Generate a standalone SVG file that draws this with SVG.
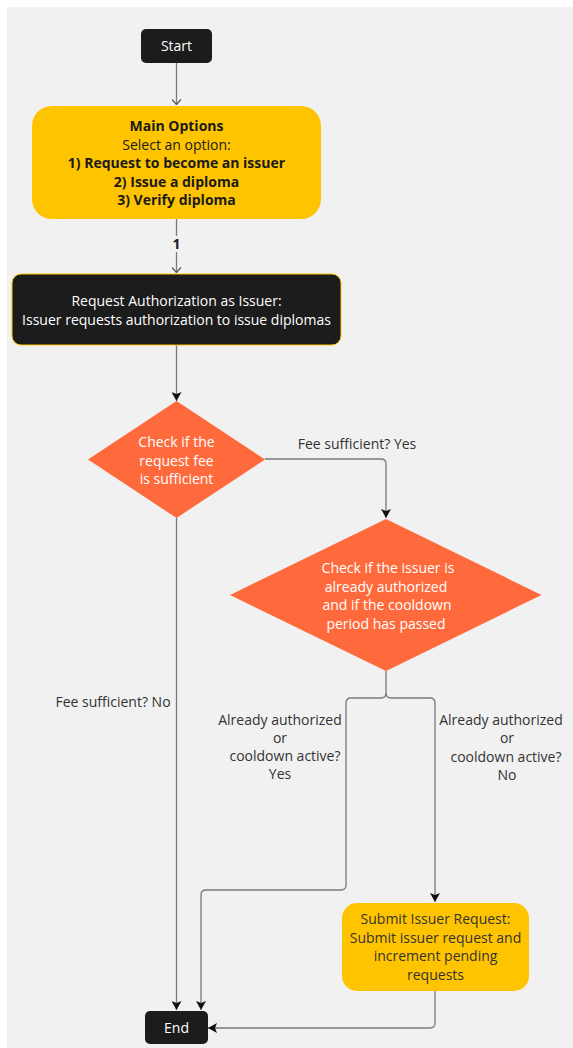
<svg xmlns="http://www.w3.org/2000/svg" width="573" height="1048" viewBox="0 0 573 1048">
<defs>
<style>
.t{font-family:"Open Sans","Noto Sans","DejaVu Sans",sans-serif;font-size:14px;text-anchor:middle}
.b{font-weight:bold}
.w{fill:#ffffff}
.k{fill:#1a1a1a}
.l{fill:#333333}
.e{fill:none;stroke:#7a7a7a;stroke-width:1.3}
</style>
<marker id="open" viewBox="0 0 10 6" refX="5" refY="6" markerWidth="10" markerHeight="6" markerUnits="userSpaceOnUse" orient="0">
<path d="M0.5,0.5 L5,5.5 L9.5,0.5" fill="none" stroke="#555" stroke-width="1.2"/>
</marker>
<marker id="solid" viewBox="0 0 10 9" refX="5" refY="9" markerWidth="10" markerHeight="9" markerUnits="userSpaceOnUse" orient="0">
<path d="M0,0 L5,2 L10,0 L5,9 Z" fill="#111"/>
</marker>
<marker id="solidL" viewBox="0 0 9 10" refX="0" refY="5" markerWidth="9" markerHeight="10" markerUnits="userSpaceOnUse" orient="0">
<path d="M9,0 L7,5 L9,10 L0,5 Z" fill="#111"/>
</marker>
</defs>
<rect x="0" y="0" width="573" height="1048" fill="#ffffff"/>
<rect x="7" y="7" width="566" height="1041" fill="#f1f1f1"/>

<g id="connectors">
<path class="e" d="M176.5,63 V105" marker-end="url(#open)"/>
<path class="e" d="M176.5,219 V273" marker-end="url(#open)"/>
<rect x="170" y="236" width="13" height="16" fill="#f1f1f1"/>
<text class="t b k" x="176.5" y="249">1</text>
<path class="e" d="M176.5,345 V401" marker-end="url(#solid)"/>
<path class="e" d="M265,459 H381 Q386,459 386,464 V518" marker-end="url(#solid)"/>
<text class="t l" x="357" y="449">Fee sufficient? Yes</text>
<path class="e" d="M176.5,518 V1010" marker-end="url(#solid)"/>
<text class="t l" x="113" y="707">Fee sufficient? No</text>
<path class="e" d="M386,671 V693 Q386,698 381,698 H351 Q346,698 346,703 V885 Q346,890 341,890 H206 Q201,890 201,895 V1010" marker-end="url(#solid)"/>
<path class="e" d="M386,693 Q386,698 391,698 H430 Q435,698 435,703 V902" marker-end="url(#solid)"/>
<text class="t l" x="280" y="725">Already authorized</text>
<text class="t l" x="280" y="743">or</text>
<text class="t l" x="285" y="761">cooldown active?</text>
<text class="t l" x="280" y="779">Yes</text>
<text class="t l" x="501" y="725">Already authorized</text>
<text class="t l" x="507" y="743">or</text>
<text class="t l" x="506" y="761.5">cooldown active?</text>
<text class="t l" x="507" y="780">No</text>
<path class="e" d="M435,991 V1023 Q435,1028 430,1028 H208" marker-end="url(#solidL)"/>
</g>

<g id="start">
<rect x="141" y="29" width="71" height="34" rx="5" fill="#1c1c1c"/>
<text class="t w" x="176.5" y="51">Start</text>
</g>

<g id="main-options">
<rect x="32" y="106" width="289" height="113" rx="20" fill="#ffc400"/>
<text class="t b k" x="176.5" y="131">Main Options</text>
<text class="t k" x="176.5" y="149.5">Select an option:</text>
<text class="t b k" x="176.5" y="168">1) Request to become an issuer</text>
<text class="t b k" x="176.5" y="186.5">2) Issue a diploma</text>
<text class="t b k" x="176.5" y="205">3) Verify diploma</text>
</g>

<g id="request-authorization">
<rect x="12" y="274" width="329" height="71" rx="9" fill="#1c1c1c" stroke="#ffc400" stroke-width="1"/>
<text class="t w" x="176.5" y="306">Request Authorization as Issuer:</text>
<text class="t w" x="176.5" y="324.5">Issuer requests authorization to issue diplomas</text>
</g>

<g id="check-fee">
<polygon points="176.5,401 265,459.5 176.5,518 88,459.5" fill="#ff6a3d"/>
<text class="t w" x="176.5" y="447">Check if the</text>
<text class="t w" x="176.5" y="465.5">request fee</text>
<text class="t w" x="176.5" y="484">is sufficient</text>
</g>

<g id="check-authorized">
<polygon points="386,519 541.5,595 386,671 230,595" fill="#ff6a3d"/>
<text class="t w" x="388" y="573">Check if the issuer is</text>
<text class="t w" x="386" y="591.5">already authorized</text>
<text class="t w" x="387" y="610">and if the cooldown</text>
<text class="t w" x="386" y="628.5">period has passed</text>
</g>

<g id="submit-request">
<rect x="342" y="903" width="187" height="88" rx="15" fill="#ffc400"/>
<text class="t l" x="435.5" y="924">Submit Issuer Request:</text>
<text class="t l" x="435.5" y="942.5">Submit issuer request and</text>
<text class="t l" x="435.5" y="961">increment pending</text>
<text class="t l" x="435.5" y="979.5">requests</text>
</g>

<g id="end">
<rect x="145" y="1011" width="63" height="33" rx="5" fill="#1c1c1c"/>
<text class="t w" x="176.5" y="1033">End</text>
</g>
</svg>
